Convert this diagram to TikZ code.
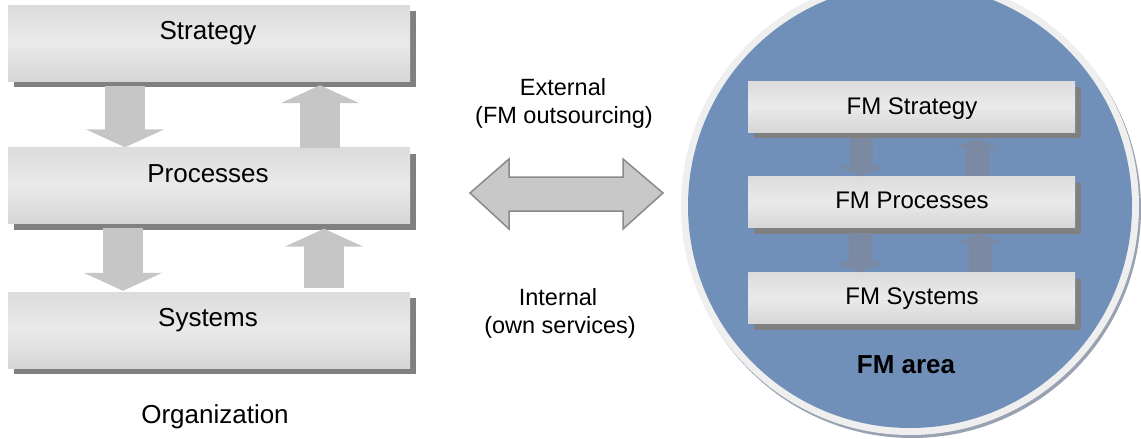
\documentclass[tikz,border=0pt]{standalone}
\usepackage{fontspec}
\setmainfont{Liberation Sans}
\usetikzlibrary{arrows.meta,shadows,calc}
\definecolor{boxtop}{HTML}{DCDCDC}
\definecolor{boxmid}{HTML}{EAEAEA}
\definecolor{boxbot}{HTML}{D6D6D6}
\definecolor{shadowgray}{HTML}{808080}
\definecolor{arrowgray}{HTML}{C6C6C6}
\definecolor{fmblue}{HTML}{7090BA}
\definecolor{fmarrow}{HTML}{7B8AA2}
\definecolor{halo}{HTML}{EFEFEF}
\definecolor{haloshadow}{HTML}{98A2B2}
\definecolor{dblfill}{HTML}{C8C8C8}
\definecolor{dbledge}{HTML}{8A8A8A}
\tikzset{
  box/.style={rectangle, inner sep=0pt, top color=boxtop, bottom color=boxbot, middle color=boxmid,
    drop shadow={shadow xshift=6pt, shadow yshift=-6pt, fill=shadowgray, opacity=1}},
  bigbox/.style={box, minimum width=402pt, minimum height=76pt},
  fmbox/.style={box, minimum width=327pt, minimum height=51pt},
  bigtxt/.style={anchor=base, inner sep=0pt, font=\fontsize{26}{30}\selectfont},
  fmtxt/.style={anchor=base, inner sep=0pt, font=\fontsize{24}{28}\selectfont},
  midtxt/.style={anchor=base, inner sep=0pt, font=\fontsize{23.5}{28}\selectfont},
  blockL/.style={draw=arrowgray, line width=40pt, -{Triangle[length=18pt 0 0, width=78pt 0 0, fill=arrowgray]}},
  blockS/.style={draw=fmarrow, line width=23pt, -{Triangle[length=10pt 0 0, width=46pt 0 0, fill=fmarrow]}},
}
\begin{document}
\begin{tikzpicture}[x=1pt, y=-1pt]
\useasboundingbox (0,0) rectangle (1141,439);

% ---- left: organization ----
\node[bigbox] (strat) at (209,43) {};
\node[bigbox] (proc) at (209,185.5) {};
\node[bigbox] (sys) at (209,330) {};
\node[bigtxt] (tstrat) at (208,39) {Strategy};
\node[bigtxt] (tproc) at (208,182) {Processes};
\node[bigtxt] (tsys) at (208,326) {Systems};
\node[bigtxt] (org) at (215,423) {Organization};

\draw[blockL] ([yshift=-5pt]125,0 |- strat.south) -- (125,0 |- proc.north);
\draw[blockL] ([yshift=-1pt]320,0 |- proc.north) -- ([yshift=-4pt]320,0 |- strat.south);
\draw[blockL] ([yshift=-4pt]123,0 |- proc.south) -- ([yshift=1pt]123,0 |- sys.north);
\draw[blockL] ([yshift=4pt]324,0 |- sys.north) -- ([yshift=-5pt]324,0 |- proc.south);

% ---- middle ----
\node[midtxt] (ext1) at (563,95) {External};
\node[midtxt] (ext2) at (564,123) {(FM outsourcing)};
\node[midtxt] (int1) at (558,305) {Internal};
\node[midtxt] (int2) at (560,333) {(own services)};
\draw[fill=dblfill, draw=dbledge, line width=1.5pt, line join=miter]
  (470,193) -- (509,159) -- (509,177) -- (623,177) -- (623,159) -- (663,193)
  -- (623,229) -- (623,211) -- (509,211) -- (509,229) -- cycle;

% ---- right: FM area ----
\fill[haloshadow] (912,209) circle[radius=229];
\node[circle, fill=halo, minimum size=458pt, inner sep=0pt] (fm) at (910,206) {};
\fill[fmblue] (fm.center) circle[radius=222];

\node[fmbox] (fmstrat) at (911.5,106.5) {};
\node[fmbox] (fmproc) at (911.5,202) {};
\node[fmbox] (fmsys) at (911.5,298) {};
\node[fmtxt] (tfmstrat) at (912,114) {FM Strategy};
\node[fmtxt] (tfmproc) at (912,208) {FM Processes};
\node[fmtxt] (tfmsys) at (912,304) {FM Systems};
\node[anchor=base, inner sep=0pt, font=\fontsize{26}{30}\selectfont\bfseries] (fmarea) at (906,373) {FM area};

\draw[blockS] ([yshift=-6pt]861,0 |- fmstrat.south) -- (861,0 |- fmproc.north);
\draw[blockS] (977,0 |- fmproc.north) -- ([yshift=-6pt]977,0 |- fmstrat.south);
\draw[blockS] ([yshift=-5pt]860,0 |- fmproc.south) -- (860,0 |- fmsys.north);
\draw[blockS] (980,0 |- fmsys.north) -- ([yshift=-5pt]980,0 |- fmproc.south);
\end{tikzpicture}
\end{document}
